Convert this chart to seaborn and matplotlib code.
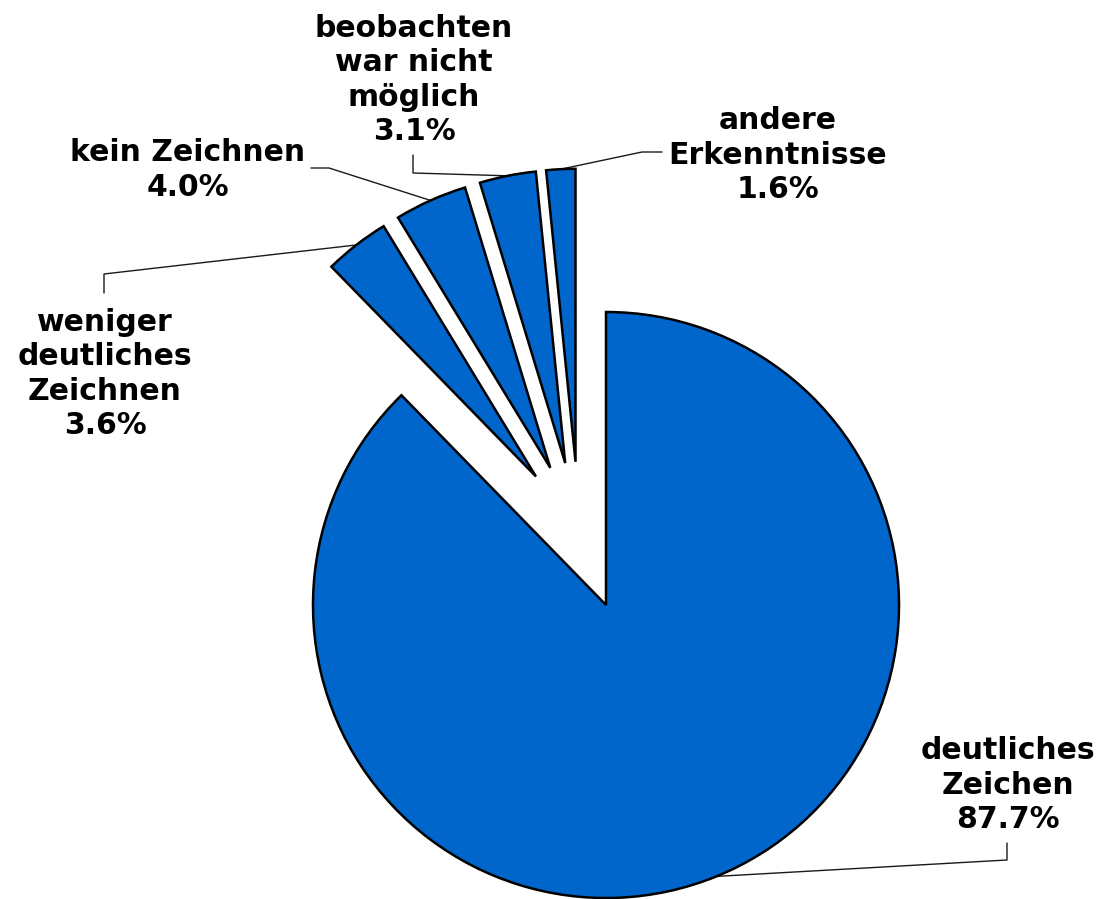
import numpy as np
import seaborn as sns
import matplotlib.pyplot as plt

# ------------------------------
# Data
# ------------------------------
CATEGORIES = [
    "deutliches\nZeichen",
    "weniger\ndeutliches\nZeichnen",
    "kein Zeichnen",
    "beobachten\nwar nicht\nmöglich",
    "andere\nErkenntnisse",
]
SHARES = [87.7, 3.6, 4.0, 3.1, 1.6]

SLICE_COLOR = "#0066CC"
EXPLODE = [0, 0.24, 0.24, 0.24, 0.24]
GROUP_SHIFT = (-0.092, 0.249)   # the small slices are pulled out together

sns.set_theme(style="white")
plt.rcParams["font.family"] = ["DejaVu Sans"]

# pixel geometry of the picture: pie centre and radius
PX_R = 293
CX, CY = 606, 605


def to_data(px, py):
    return ((px - CX) / PX_R, (CY - py) / PX_R)


# label centre and the elbow of its leader line, in pixels
LABEL_POS = [(1008, 785), (105, 374), (188, 170), (414, 80), (778, 155)]
LEADER_ELBOW = [
    [(1007, 843), (1007, 860)],
    [(104, 293), (104, 274)],
    [(311, 168), (329, 168)],
    [(413, 155), (413, 173)],
    [(662, 152), (642, 152)],
]

fig = plt.figure(figsize=(11.02, 8.99), dpi=100)
ax = fig.add_axes([0, 0, 1, 1])

wedges, _ = ax.pie(
    SHARES,
    startangle=90,
    counterclock=False,
    explode=EXPLODE,
    colors=[SLICE_COLOR] * len(SHARES),
    wedgeprops=dict(edgecolor="black", linewidth=1.8),
)

for w in wedges[1:]:
    cx, cy = w.center
    w.set_center((cx + GROUP_SHIFT[0], cy + GROUP_SHIFT[1]))

for w, name, share, pos, elbow in zip(wedges, CATEGORIES, SHARES, LABEL_POS, LEADER_ELBOW):

    mid = np.deg2rad((w.theta1 + w.theta2) / 2)
    cx, cy = w.center
    end = (cx + w.r * np.cos(mid), cy + w.r * np.sin(mid))

    pts = [to_data(*p) for p in elbow] + [end]
    ax.plot(
        [p[0] for p in pts],
        [p[1] for p in pts],
        color="#1a1a1a",
        linewidth=1.0,
        zorder=0,
    )

    tx, ty = to_data(*pos)
    ax.text(
        tx, ty,
        f"{name}\n{share:.1f}%",
        ha="center",
        va="center",
        fontsize=21.5,
        fontweight="bold",
        linespacing=1.22,
        color="black",
    )

ax.set_xlim(-CX / PX_R, (1102 - CX) / PX_R)
ax.set_ylim(-(899 - CY) / PX_R, CY / PX_R)
ax.set_aspect("auto")
ax.axis("off")

fig.savefig("out.png", dpi=100, facecolor="white")
